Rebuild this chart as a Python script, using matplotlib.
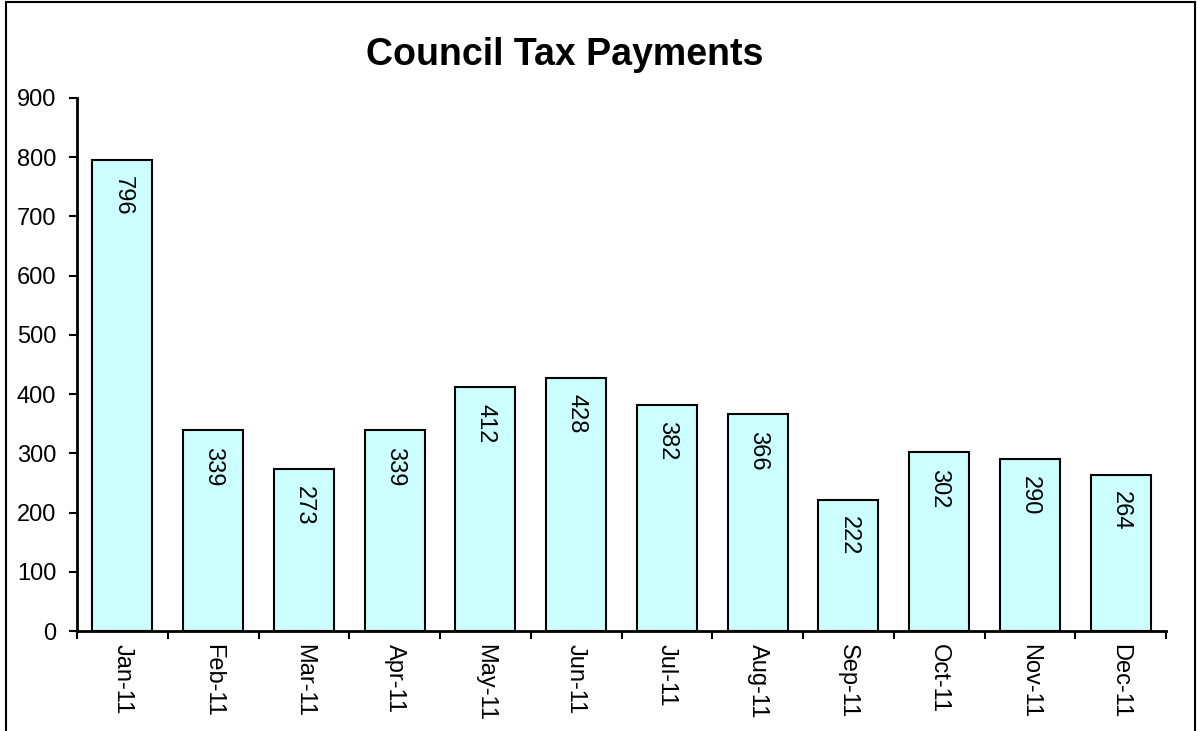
import numpy as np
import matplotlib.pyplot as plt
from matplotlib.patches import Rectangle

months = ['Jan-11', 'Feb-11', 'Mar-11', 'Apr-11', 'May-11', 'Jun-11',
          'Jul-11', 'Aug-11', 'Sep-11', 'Oct-11', 'Nov-11', 'Dec-11']
payments = [796, 339, 273, 339, 412, 428, 382, 366, 222, 302, 290, 264]
y_ticks = [0, 100, 200, 300, 400, 500, 600, 700, 800, 900]

plt.rcParams['font.family'] = ['Liberation Sans', 'DejaVu Sans']

fig = plt.figure(figsize=(11.97, 7.31), dpi=100)
ax = fig.add_axes([77 / 1197, 1 - 631 / 731, 1089 / 1197, 533 / 731])

x = np.arange(len(months))
bars = ax.bar(x, payments, width=0.66, color='#CCFFFF', edgecolor='black', linewidth=1.5)

for xi, v in zip(x, payments):
    ax.annotate(str(v), (xi, v), xytext=(0, -12), textcoords='offset points',
                ha='center', va='top', rotation=270, fontsize=17)

ax.set_xlim(-0.5, len(months) - 0.5)
ax.set_ylim(0, 900)
ax.set_yticks(y_ticks)
ax.tick_params(axis='y', labelsize=17, length=6, width=1.5, direction='out', pad=9)

# category ticks at boundaries, labels in the middle
ax.set_xticks(np.arange(len(months) + 1) - 0.5)
ax.set_xticklabels([])
ax.set_xticks(x, minor=True)
ax.set_xticklabels(months, minor=True, rotation=270, fontsize=17)
ax.tick_params(axis='x', which='major', length=6, width=1.5, direction='out')
ax.tick_params(axis='x', which='minor', length=0, pad=9)

for side in ['top', 'right']:
    ax.spines[side].set_visible(False)
for side in ['left', 'bottom']:
    ax.spines[side].set_linewidth(2)

fig.text(565 / 1197, 1 - 55 / 731, 'Council Tax Payments', ha='center', va='center',
         fontsize=27, fontweight='bold')

fig.patches.append(Rectangle((6 / 1197, -0.01), 1189 / 1197, 1.01 - 2 / 731,
                             transform=fig.transFigure, fill=False,
                             edgecolor='black', linewidth=1.5))

fig.savefig('out.png', dpi=100)
